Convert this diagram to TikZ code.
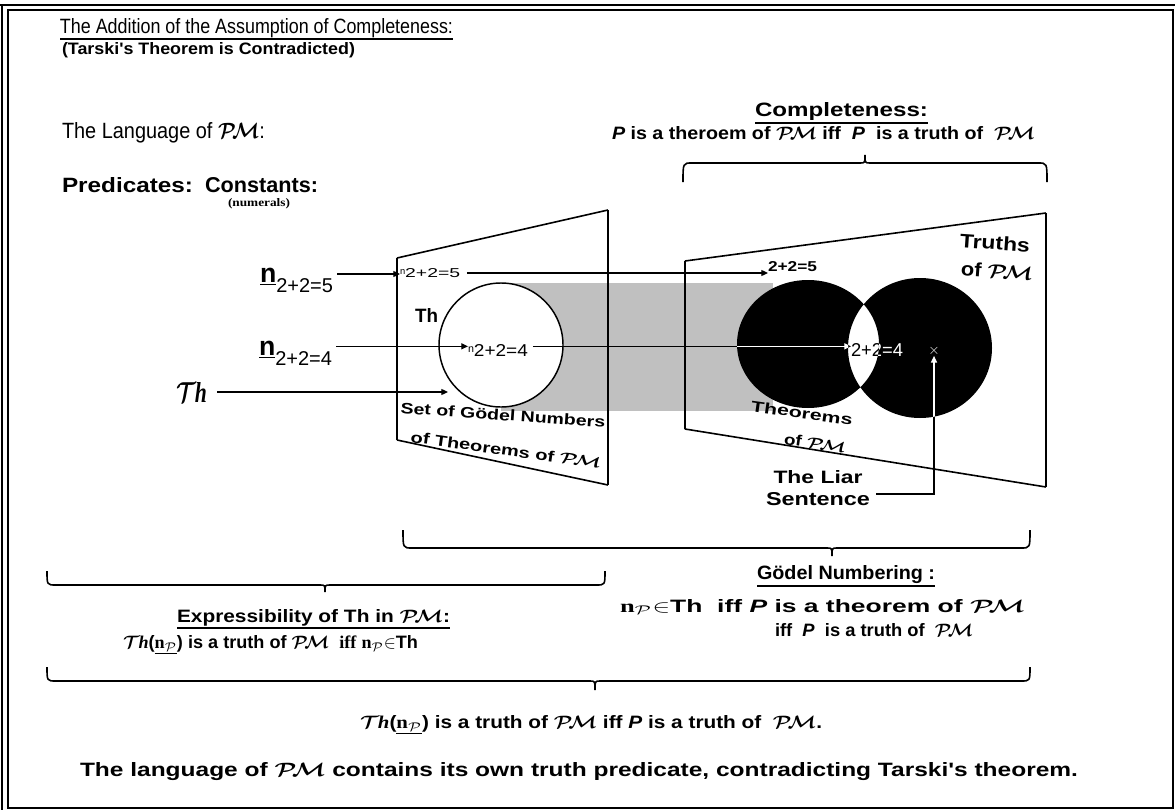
\documentclass[tikz,border=0pt]{standalone}
\usepackage{fontspec}
\setmainfont{Liberation Sans}
\newfontfamily\lserif{Liberation Serif}
\usepackage{graphicx}
\usetikzlibrary{arrows.meta}
\newlength\px \setlength\px{0.75pt}
\newcommand{\fitt}[3]{\resizebox{#1\px}{#2\px}{#3}}
\newcommand{\PM}{{\boldmath$\mathcal{P}\mkern-3mu\mathcal{M}$}}
\newcommand{\Thsym}{{\boldmath$\mathcal{T}$}\kern-0.5pt{\lserif\bfseries\itshape h}}
\newcommand{\nP}{{\lserif\bfseries n}$_{\mathcal{P}}$}
\definecolor{gry}{RGB}{192,192,192}
\newcommand{\hbr}[6]{\draw[brc] (#1,#4) .. controls (#1,#5) .. ({#1+9},#5) -- ({#3-5},#5) .. controls (#3,#5) .. (#3,#6) .. controls (#3,#5) .. ({#3+5},#5) -- ({#2-9},#5) .. controls (#2,#5) .. (#2,#4);}
\begin{document}
\begin{tikzpicture}[x=0.75pt,y=-0.75pt,
  every node/.style={inner sep=0pt,outer sep=0pt},
  arr/.style={line width=0.9pt,-{Triangle[length=5pt,width=4.5pt]}},
  brc/.style={line width=1.2pt},
  uline/.style={line width=1.6pt},
  panel/.style={line width=1.2pt},
  thickedge/.style={line width=2.2pt}]
\useasboundingbox (0,0) rectangle (1175,810);
% frame
\draw[line width=1.5pt] (0,5) -- (1175,5);
\draw[line width=1.5pt] (2,5) -- (2,810);
\draw[line width=1.5pt] (7.5,10) rectangle (1172.5,808);

% titles
\node[anchor=west] (title) at (60,28) {\fitt{393}{15}{\fontsize{14pt}{14pt}\selectfont The Addition of the Assumption of Completeness:}};
\draw[uline] ([yshift=-1.2pt]title.south west) -- ([yshift=-1.2pt]title.south east);
\node[anchor=west] (sub) at (62,50) {\fitt{293}{12}{\bfseries (Tarski\textquotesingle s Theorem is Contradicted)}};

\node[anchor=west] (compl) at (755,112) {\fitt{173}{14}{\bfseries Completeness:}};
\draw[uline] ([yshift=-1.5pt]compl.south west) -- ([yshift=-1.5pt]compl.south east);
\node[anchor=west] (cline) at (612,133) {\fitt{423}{13}{\bfseries \textit{P} is a theroem of \PM\ iff\ \ \textit{P}\ \ is a truth of\ \ \PM}};

\node[anchor=west] (lang) at (62,133) {\fitt{203}{16}{The Language of \PM:}};
\node[anchor=west] (pred) at (62,185) {\fitt{131}{15}{\bfseries Predicates:}};
\node[anchor=west] (const) at (205,185) {\fitt{113}{15}{\bfseries Constants:}};
\node[anchor=west] (numer) at (228,204) {\fitt{62}{8}{\lserif\bfseries (numerals)}};

% braces
\hbr{683}{1047}{865}{182}{163}{155}
\hbr{403}{1030}{832}{530}{548}{556}
\hbr{47}{605}{325}{571}{585}{592}
\hbr{47}{1030}{595}{667}{681}{690}

% gray band
\fill[gry] (501,283) rectangle (773,411);
% left panel
\node[circle,draw,line width=1.1pt,fill=white,minimum size=93pt] (thset) at (501,345) {};
\draw[panel] (397,258) -- (608,210) (608,485) -- (397,440);
\draw[thickedge] (397,258) -- (397,440) (608,210) -- (608,485);
% right panel
\draw[panel] (685,261) -- (1046,213) (1046,487) -- (685,429) (685,261) -- (685,429);
\draw[thickedge] (1046,213) -- (1046,487);
% black sets
\fill[black,even odd rule] (808,344) ellipse [x radius=71,y radius=64] (920,348) ellipse [x radius=72,y radius=70];

% left labels
\node[anchor=base west] (n5L) at (260,282) {\fontsize{20pt}{20pt}\selectfont\bfseries\underline{n}\raisebox{-8pt}{\fontsize{15pt}{15pt}\selectfont\mdseries 2+2=5}};
\node[anchor=base west] (n4L) at (259,355) {\fontsize{20pt}{20pt}\selectfont\bfseries\underline{n}\raisebox{-8pt}{\fontsize{15pt}{15pt}\selectfont\mdseries 2+2=4}};
\node[anchor=west] (Thl) at (176,392) {\fitt{31}{20}{\Large\Thsym}};

% panel labels
\node[anchor=west] (n5M) at (400,273) {\fontsize{7pt}{7pt}\selectfont\raisebox{2pt}{n}\fitt{55}{9}{2+2=5}};
\node[anchor=west] (n4M) at (468,350) {\fontsize{8pt}{8pt}\selectfont\raisebox{3pt}{n}\fitt{54}{12}{2+2=4}};
\node[anchor=west] (th) at (415,315) {\fitt{23}{14}{\bfseries Th}};
\node[rotate=-4] (sg1) at (503,415) {\fitt{205}{11}{\bfseries Set of G\"odel Numbers}};
\node[rotate=-8] (sg2) at (506,450) {\fitt{192}{11}{\bfseries of Theorems of \PM}};

\node[anchor=west] (n5R) at (768,267) {\fitt{49}{10}{\bfseries 2+2=5}};
\node[anchor=west] (n4R) at (851,350) {\fitt{52}{13}{2+2=4}};
\node[rotate=-4] (tr1) at (995,243) {\fitt{70}{14}{\bfseries Truths}};
\node[rotate=-4] (tr2) at (997,271) {\fitt{72}{14}{\bfseries of \PM}};
\node[rotate=-8] (te1) at (802,413) {\fitt{102}{11}{\bfseries Theorems}};
\node[rotate=-8] (te2) at (815,443) {\fitt{62}{11}{\bfseries of \PM}};
\node[text=white,font=\fontsize{11pt}{11pt}\selectfont] (xm) at (934,351) {$\times$};
\node[align=center,font=\fontsize{13pt}{17pt}\selectfont\bfseries] (liar) at (818,488) {\fitt{89}{13}{The Liar}\\\fitt{104}{13}{Sentence}};

% arrows
\coordinate (s5) at ([xshift=3pt,yshift=6pt]n5L.base east);
\draw[arr] (s5) -- (s5 -| n5M.west);
\draw[arr] ([xshift=5pt]n5M.east) -- (n5M.east -| n5R.west);
\coordinate (s4) at ([xshift=3pt,yshift=6.5pt]n4L.base east);
\draw[arr] (s4) -- (s4 -| n4M.west);
\draw[arr] (s4 -| n4M.east) ++(5,0) -- (s4 -| n4R.west);
\path (Thl.east) ++(241,0) coordinate (thend);
\draw[arr] ([xshift=7.5pt]Thl.east) -- (thend);
\draw[arr] ([xshift=4.5pt,yshift=-4.5pt]liar.east) -| (xm.south);

% white over the black sets
\begin{scope}[even odd rule]
\clip (808,344) ellipse [x radius=71,y radius=64] (920,348) ellipse [x radius=72,y radius=70];
\draw[arr,white] (s4 -| n4M.east) ++(5,0) -- (s4 -| n4R.west);
\draw[arr,white] ([xshift=4.5pt,yshift=-4.5pt]liar.east) -| (xm.south);
\node[anchor=west,text=white] at (851,350) {\fitt{52}{13}{2+2=4}};
\end{scope}

% bottom texts
\node[anchor=west] (godel) at (757,575) {\fitt{178}{14}{\bfseries G\"odel Numbering :}};
\draw[uline] ([yshift=-1.5pt]godel.south west) -- ([yshift=-1.5pt]godel.south east);
\node[anchor=west] (g1) at (620,607) {\fitt{405}{13}{\bfseries \nP$\in$Th\ \ iff \textit{P}\ is a theorem of \PM}};
\node[anchor=west] (g2) at (775,630) {\fitt{198}{13}{\bfseries iff\ \ \textit{P}\ \ is a truth of\ \ \PM}};
\node[anchor=west] (expr) at (177,618) {\fitt{273}{13}{\bfseries Expressibility of Th in \PM:}};
\draw[uline] ([yshift=-1.5pt]expr.south west) -- ([yshift=-1.5pt]expr.south east);
\node[anchor=west] (e1) at (123,645) {\fitt{295}{13}{\bfseries \Thsym(\underline{\nP}) is a truth of \PM\ \ {\lserif iff}\ \nP$\in$Th}};
\node[anchor=west] (c1) at (360,725) {\fitt{462}{13}{\bfseries \Thsym(\underline{\nP}) is a truth of \PM\ iff \textit{P} is a truth of\ \ \PM.}};
\node[anchor=west] (c2) at (80,772) {\fitt{998}{14}{\bfseries The language of \PM\ contains its own truth predicate,\ contradicting Tarski\textquotesingle s theorem.}};
\end{tikzpicture}
\end{document}
